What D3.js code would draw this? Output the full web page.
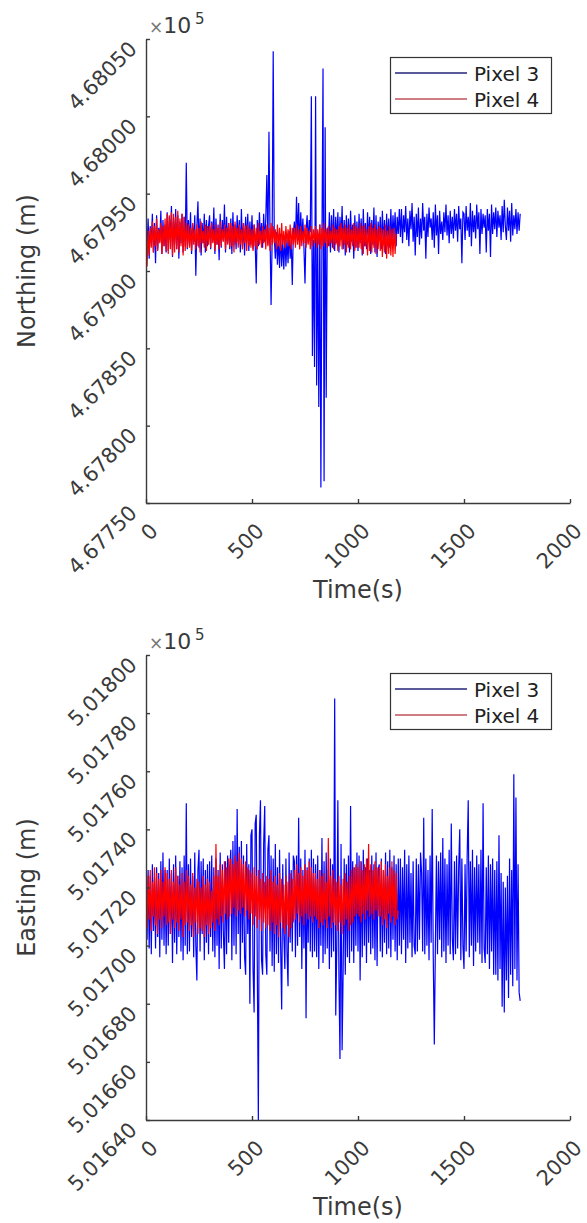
<!DOCTYPE html>
<html><head><meta charset="utf-8">
<script src="https://cdn.jsdelivr.net/npm/d3@7"></script>
<style>body{margin:0;background:#fff} text{font-family:"DejaVu Sans",sans-serif}</style>
</head><body><svg id="c" width="587" height="1223"></svg>
<script>
// sample spacing of the series (seconds)
const timeStep = 5;

// Northing (m), Pixel 3, t = 0..1765 s
const northingPixel3 = [
467930,467915,467934,467908,467929,467918,467937,467912,467931,467905,467936,467914,467928,467919,467939,467911,467933,467916,467930,467912,
467938,467913,467935,467920,467942,467909,467934,467917,467940,467914,467936,467908,467932,467918,467937,467912,467935,467916,467970,467914,
467933,467917,467938,467911,467930,467919,467936,467897,467929,467945,467915,467934,467910,467931,467918,467937,467912,467933,467916,467929,
467936,467914,467932,467919,467941,467911,467934,467917,467930,467907,467937,467915,467933,467920,467943,467912,467935,467918,467931,467914,
467934,467911,467938,467917,467930,467914,467936,467919,467933,467912,467940,467916,467931,467910,467935,467918,467937,467913,467932,467917,
467936,467914,467930,467918,467892,467933,467916,467938,467920,467931,467915,467937,467919,467934,467962,467917,467990,467925,467878,467920,
468042,467922,467908,467925,467904,467921,467902,467924,467903,467920,467901,467923,467903,467921,467905,467926,467908,467920,467891,467925,
467932,467918,467948,467922,467944,467916,467938,467920,467934,467915,467892,467926,467936,467918,467933,467925,468013,467845,467920,467838,
468013,467826,467925,467812,467930,467760,467924,468031,467764,467993,467818,467928,467916,467938,467912,467936,467915,467940,467913,467935,
467918,467938,467912,467935,467920,467942,467914,467933,467910,467936,467917,467934,467912,467939,467919,467930,467908,467936,467915,467932,
467913,467937,467918,467934,467910,467940,467916,467931,467914,467938,467919,467935,467911,467933,467917,467941,467912,467936,467909,467932,
467920,467935,467914,467939,467917,467933,467911,467937,467919,467934,467915,467940,467918,467936,467922,467938,467916,467935,467924,467940,
467922,467940,467918,467936,467925,467942,467920,467934,467916,467939,467927,467944,467919,467935,467910,467937,467922,467941,467917,467934,
467921,467944,467926,467935,467908,467937,467922,467941,467928,467934,467920,467938,467915,467943,467923,467936,467911,467939,467924,467932,
467920,467938,467925,467943,467923,467936,467918,467939,467924,467935,467921,467940,467926,467937,467919,467942,467927,467934,467905,467938,
467937,467920,467942,467926,467935,467922,467944,467916,467939,467925,467936,467921,467943,467927,467938,467911,467940,467924,467937,467928,
467936,467912,467940,467926,467937,467909,467943,467924,467938,467927,467941,467922,467939,467928,467936,467920,467942,467925,467946,467929,
467920,467941,467926,467939,467919,467944,467923,467936,467927,467940,467924,467938,467926,467937];

// Northing (m), Pixel 4, t = 0..1180 s
const northingPixel4 = [
467930,467903,467926,467910,467928,467915,467932,467912,467929,467916,467934,467913,467927,467918,467931,467911,467929,467916,467934,467913,
467937,467911,467936,467914,467938,467910,467937,467912,467935,467914,467939,467912,467934,467916,467937,467910,467935,467913,467931,467915,
467930,467915,467928,467913,467931,467917,467927,467914,467930,467916,467928,467912,467932,467918,467926,467915,467930,467913,467929,467917,
467929,467915,467931,467918,467927,467913,467930,467917,467928,467914,467932,467916,467927,467919,467930,467914,467928,467917,467931,467915,
467931,467916,467929,467912,467932,467918,467928,467915,467930,467917,467927,467914,467931,467918,467929,467913,467930,467916,467928,467915,
467927,467913,467930,467916,467928,467914,467931,467917,467926,467915,467929,467918,467927,467914,467930,467916,467928,467913,467931,467917,
467929,467918,467927,467914,467930,467916,467928,467913,467931,467917,467926,467915,467929,467918,467927,467916,467930,467914,467928,467917,
467928,467915,467930,467917,467927,467914,467929,467916,467926,467918,467930,467915,467928,467917,467926,467914,467929,467916,467927,467918,
467929,467915,467927,467917,467930,467914,467928,467916,467931,467918,467927,467915,467929,467916,467926,467918,467930,467914,467928,467917,
467927,467913,467929,467916,467931,467914,467928,467917,467930,467912,467928,467915,467930,467914,467927,467916,467931,467913,467929,467915,
467928,467915,467931,467914,467929,467911,467930,467916,467927,467910,467929,467913,467931,467912,467928,467915,467930,467911,467927,467914,
467929,467913,467928,467909,467927,467912,467930,467908,467926,467911,467929,467910,467927,467909,467928,467911,467924];

// Easting (m), Pixel 3, t = 0..1765 s
const eastingPixel3 = [
501722,501702,501726,501699,501724,501697,501728,501705,501723,501699,501727,501703,501725,501696,501729,501702,501732,501700,501726,501697,
501726,501700,501730,501704,501725,501694,501728,501701,501731,501697,501724,501703,501729,501698,501727,501695,501731,501700,501749,501697,
501728,501698,501730,501703,501724,501696,501732,501700,501688,501726,501733,501698,501729,501704,501730,501695,501726,501701,501728,501697,
501729,501703,501731,501698,501727,501696,501730,501700,501726,501692,501732,501699,501728,501704,501692,501729,501697,501731,501701,501727,
501733,501695,501736,501700,501738,501697,501747,501704,501734,501692,501736,501701,501731,501696,501690,501735,501704,501728,501680,501738,
501740,501692,501677,501742,501745,501693,501640,501738,501750,501695,501690,501735,501748,501697,501690,501733,501738,501698,501731,501693,
501730,501691,501735,501697,501727,501694,501733,501700,501678,501728,501704,501692,501730,501698,501686,501732,501701,501726,501698,501731,
501729,501696,501731,501700,501744,501703,501730,501692,501726,501699,501733,501675,501727,501701,501730,501698,501733,501696,501730,501698,
501728,501696,501731,501692,501726,501700,501737,501694,501729,501697,501732,501699,501726,501692,501730,501696,501728,501698,501785,501676,
501700,501750,501690,501661,501735,501664,501692,501730,501690,501728,501696,501731,501694,501748,501698,501729,501694,501727,501700,501732,
501698,501731,501688,501729,501696,501733,501700,501727,501694,501730,501701,501726,501697,501731,501699,501728,501695,501732,501693,501726,
501728,501698,501730,501696,501726,501701,501732,501697,501729,501699,501733,501696,501727,501702,501731,501698,501728,501695,501730,501700,
501730,501697,501727,501702,501733,501694,501728,501699,501731,501701,501725,501696,501729,501700,501697,501730,501698,501728,501702,501732,
501725,501698,501744,501697,501730,501700,501726,501695,501731,501701,501747,501696,501666,501700,501731,501697,501729,501702,501732,501696,
501737,501698,501730,501694,501728,501700,501733,501697,501742,501702,501695,501729,501697,501731,501699,501727,501740,501695,501730,501700,
501692,501728,501698,501731,501750,501696,501729,501700,501733,501693,501727,501698,501731,501701,501728,501697,501733,501694,501749,501699,
501694,501727,501697,501731,501692,501728,501698,501730,501690,501726,501690,501729,501688,501738,501692,501725,501679,501722,501677,501720,
501688,501724,501682,501730,501690,501726,501686,501759,501692,501751,501688,501728,501684,501681];

// Easting (m), Pixel 4, t = 0..1190 s
const eastingPixel4 = [
501728,501706,501724,501709,501726,501705,501722,501710,501727,501707,501725,501704,501723,501709,501726,501706,501722,501710,501727,501707,
501725,501708,501723,501704,501726,501709,501722,501706,501727,501708,501724,501705,501721,501709,501725,501703,501722,501707,501726,501708,
501724,501705,501721,501707,501725,501703,501720,501708,501723,501704,501722,501706,501720,501705,501724,501703,501721,501707,501723,501704,
501722,501706,501719,501708,501724,501705,501735,501709,501724,501707,501728,501710,501726,501708,501729,501711,501727,501709,501730,501710,
501730,501711,501728,501713,501731,501710,501729,501712,501732,501711,501730,501713,501728,501710,501729,501712,501727,501709,501726,501711,
501725,501707,501727,501710,501724,501706,501726,501709,501723,501705,501725,501708,501722,501706,501724,501707,501723,501705,501726,501708,
501722,501704,501724,501707,501721,501703,501725,501708,501723,501706,501721,501704,501724,501707,501722,501703,501725,501706,501723,501708,
501726,501709,501728,501711,501725,501708,501727,501710,501724,501707,501728,501711,501726,501709,501729,501710,501727,501708,501725,501710,
501725,501709,501723,501706,501726,501708,501724,501707,501725,501709,501722,501706,501737,501710,501724,501706,501726,501708,501723,501707,
501722,501705,501724,501708,501721,501704,501723,501707,501725,501709,501722,501705,501724,501707,501726,501708,501727,501710,501728,501711,
501727,501710,501729,501708,501726,501711,501728,501709,501730,501712,501735,501710,501728,501711,501726,501709,501729,501712,501727,501710,
501727,501710,501729,501707,501726,501709,501728,501706,501724,501711,501727,501708,501729,501710,501726,501707,501725,501709,501712];

const timeTicks = [0, 500, 1000, 1500, 2000];
const timeTickLabels = ["0", "500", "1000", "1500", "2000"];
const northingTicks = [467750, 467800, 467850, 467900, 467950, 468000, 468050];
const northingTickLabels = ["4.67750","4.67800","4.67850","4.67900","4.67950","4.68000","4.68050"];
const eastingTicks = [501640, 501660, 501680, 501700, 501720, 501740, 501760, 501780, 501800];
const eastingTickLabels = ["5.01640","5.01660","5.01680","5.01700","5.01720","5.01740","5.01760","5.01780","5.01800"];
const seriesNames = ["Pixel 3", "Pixel 4"];
const seriesColors = ["#0000ff", "#ff0000"];
const legendColors = ["#25257a", "#c0505c"];

const svg = d3.select("#c");
svg.append("rect").attr("width", 587).attr("height", 1223).attr("fill", "#fff");

const x = d3.scaleLinear().domain([0, 2000]).range([146, 570]);
const axisColor = "#3a3a3a";
const textColor = "#3a3a3a";

const panels = [
  {top: 39, bottom: 503, domain: [467750, 468050], ticks: northingTicks, tickLabels: northingTickLabels,
   label: "Northing (m)", series: [northingPixel3, northingPixel4]},
  {top: 655, bottom: 1120, domain: [501640, 501800], ticks: eastingTicks, tickLabels: eastingTickLabels,
   label: "Easting (m)", series: [eastingPixel3, eastingPixel4]}
];

panels.forEach((p, pi) => {
  const y = d3.scaleLinear().domain(p.domain).range([p.bottom, p.top]);
  const g = svg.append("g");
  const clipId = "clip" + pi;
  g.append("clipPath").attr("id", clipId).append("rect")
    .attr("x", 146).attr("y", p.top).attr("width", 424).attr("height", p.bottom - p.top);

  // data
  const line = d3.line().x((d, i) => x(i * timeStep)).y(d => y(d));
  p.series.forEach((s, si) => {
    g.append("path").datum(s)
      .attr("clip-path", `url(#${clipId})`)
      .attr("fill", "none").attr("stroke", seriesColors[si])
      .attr("stroke-width", 1.2).attr("stroke-linejoin", "miter")
      .attr("d", line);
  });

  // axes
  const xa = g.append("g").attr("transform", `translate(0,${p.bottom})`)
    .call(d3.axisBottom(x).tickValues(timeTicks).tickSize(-4).tickSizeOuter(0).tickFormat(""));
  const ya = g.append("g").attr("transform", `translate(146,0)`)
    .call(d3.axisLeft(y).tickValues(p.ticks).tickSize(-4).tickSizeOuter(0).tickFormat(""));
  [xa, ya].forEach(a => {
    a.select(".domain").attr("stroke", axisColor).attr("stroke-width", 1.4);
    a.selectAll(".tick line").attr("stroke", axisColor).attr("stroke-width", 1.4);
  });

  // rotated tick labels
  timeTicks.forEach((t, i) => {
    const ax = x(t) + 8, ay = p.bottom + 24;
    g.append("text").text(timeTickLabels[i])
      .attr("transform", `translate(${ax},${ay}) rotate(-45)`)
      .attr("text-anchor", "end").attr("dy", "0.35em")
      .attr("font-size", 21).attr("fill", textColor);
  });
  p.ticks.forEach((t, i) => {
    const ax = 146 - 13, ay = y(t) + 6;
    g.append("text").text(p.tickLabels[i])
      .attr("transform", `translate(${ax},${ay}) rotate(-45)`)
      .attr("text-anchor", "end").attr("dy", "0.35em")
      .attr("font-size", 21).attr("fill", textColor);
  });

  // exponent
  const ex = g.append("text").attr("x", 149).attr("y", p.top - 6).attr("fill", textColor);
  ex.append("tspan").text("×").attr("font-size", 17).attr("fill", "#777");
  ex.append("tspan").text("10").attr("font-size", 22);
  g.append("text").text("5").attr("x", 195).attr("y", p.top - 15)
    .attr("font-size", 15).attr("fill", textColor);

  // axis labels
  g.append("text").text("Time(s)").attr("x", 358).attr("y", p.bottom + 95)
    .attr("text-anchor", "middle").attr("font-size", 24).attr("fill", textColor);
  g.append("text").text(p.label)
    .attr("transform", `translate(35,${(p.top + p.bottom) / 2}) rotate(-90)`)
    .attr("text-anchor", "middle").attr("font-size", 24).attr("fill", textColor);

  // legend
  const ly = p.top + 18;
  g.append("rect").attr("x", 390.5).attr("y", ly + 0.5).attr("width", 161).attr("height", 56)
    .attr("fill", "#fff").attr("stroke", "#333").attr("stroke-width", 1.2);
  seriesNames.forEach((n, si) => {
    const yy = ly + 16 + si * 26;
    g.append("line").attr("x1", 395).attr("x2", 467).attr("y1", yy).attr("y2", yy)
      .attr("stroke", legendColors[si]).attr("stroke-width", 1.3);
    g.append("text").text(n).attr("x", 474).attr("y", yy + 8)
      .attr("font-size", 20).attr("fill", "#222");
  });
});
</script>
</body></html>
